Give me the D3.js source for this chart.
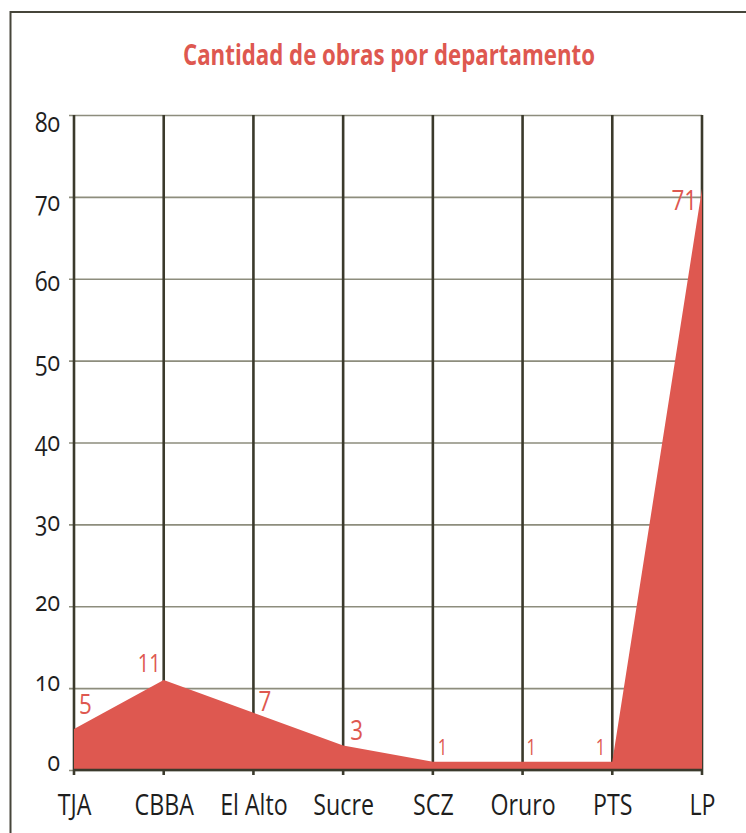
<!DOCTYPE html>
<html>
<head>
<meta charset="utf-8">
<script src="https://cdn.jsdelivr.net/npm/d3@7"></script>
<style>
  html, body { margin: 0; padding: 0; background: #fff; }
  svg { display: block; }
</style>
</head>
<body>
<svg id="chart" width="746" height="833"></svg>
<script>
const title = "Cantidad de obras por departamento";
const categories = ["TJA", "CBBA", "El Alto", "Sucre", "SCZ", "Oruro", "PTS", "LP"];
const values = [5, 11, 7, 3, 1, 1, 1, 71];
const yTicks = [0, 10, 20, 30, 40, 50, 60, 70, 80];
// label placement (dx, dy relative to point; anchor; font size)
const labelPlacement = [
  { dx: 5, dy: -15, anchor: "start", size: 28 },
  { dx: -3, dy: -8, anchor: "end", size: 25 },
  { dx: 5, dy: -2, anchor: "start", size: 28 },
  { dx: 7, dy: -5, anchor: "start", size: 28 },
  { dx: 5, dy: -7, anchor: "start", size: 21 },
  { dx: 4, dy: -7, anchor: "start", size: 21 },
  { dx: -7, dy: -7, anchor: "end", size: 21 },
  { dx: -5, dy: 21, anchor: "end", size: 28 }
];

const svg = d3.select("#chart");
const RED = "#de5850";
const DARK = "#3b3a2c";
const GRID = "#8d8d7d";
const FONT = "'Open Sans', sans-serif";

const x = d3.scalePoint().domain(categories).range([74, 702]);
const y = d3.scaleLinear().domain([0, 80]).range([770, 115]);
// tick labels in the original sit on their own, slightly tighter spacing
const yLabel = d3.scaleLinear().domain([0, 80]).range([770, 131]);

svg.append("rect").attr("width", 746).attr("height", 833).attr("fill", "#fff");

// frame
svg.append("path")
  .attr("d", "M10.5,833 L10.5,12 L746,12")
  .attr("fill", "none").attr("stroke", "#46453a").attr("stroke-width", 2);

// title
svg.append("text")
  .attr("x", 389).attr("y", 65)
  .attr("text-anchor", "middle")
  .attr("font-family", FONT)
  .attr("font-weight", "bold")
  .attr("font-size", 28)
  .attr("textLength", 412)
  .attr("lengthAdjust", "spacingAndGlyphs")
  .attr("fill", RED)
  .text(title);

// horizontal gridlines (y axis)
const yAxis = d3.axisLeft(y).tickValues(yTicks).tickSize(0).tickFormat(d => d);
const gy = svg.append("g").attr("transform", "translate(69,0)").call(yAxis);
gy.select(".domain").remove();
gy.selectAll(".tick line")
  .attr("x1", 0).attr("x2", 702 - 69)
  .attr("stroke", GRID).attr("stroke-width", 1.6);
gy.selectAll(".tick text")
  .attr("x", null).attr("dy", null)
  .attr("transform", d => `translate(-9,${yLabel(d) - y(d)}) scale(0.82,1)`)
  .attr("font-family", FONT)
  .attr("font-size", 28)
  .style("font-variant-numeric", "oldstyle-nums")
  .attr("fill", "#1e1e1e");

// vertical gridlines
const gv = svg.append("g").attr("class", "vgrid");
gv.selectAll("line").data(categories).join("line")
  .attr("x1", d => x(d)).attr("x2", d => x(d))
  .attr("y1", y(80)).attr("y2", y(0) + 5)
  .attr("stroke", DARK).attr("stroke-width", 2.6);

// area
const area = d3.area()
  .x((d, i) => x(categories[i]))
  .y0(y(0))
  .y1(d => y(d));
svg.append("path").datum(values)
  .attr("d", area)
  .attr("fill", RED);

// bottom axis
const xAxis = d3.axisBottom(x).tickSize(0).tickFormat(d => d);
const gx = svg.append("g").attr("transform", `translate(0,${y(0)})`).call(xAxis);
gx.select(".domain")
  .attr("d", `M${x(categories[0])},0H${x(categories[categories.length - 1])}`)
  .attr("stroke", DARK).attr("stroke-width", 2.6);
gx.selectAll(".tick line").remove();
gx.selectAll(".tick text")
  .attr("y", 0).attr("dy", null)
  .attr("font-family", FONT)
  .attr("font-size", 29)
  .attr("fill", "#1e1e1e")
  .attr("transform", "translate(0,45) scale(0.8,1)");

// value labels
svg.append("g").selectAll("text").data(values).join("text")
  .attr("transform", (d, i) => {
    const p = labelPlacement[i];
    return `translate(${x(categories[i]) + p.dx},${y(d) + p.dy}) scale(0.8,1)`;
  })
  .attr("text-anchor", (d, i) => labelPlacement[i].anchor)
  .attr("font-family", FONT)
  .attr("font-size", (d, i) => labelPlacement[i].size)
  .attr("fill", RED)
  .text(d => d);
</script>
</body>
</html>
